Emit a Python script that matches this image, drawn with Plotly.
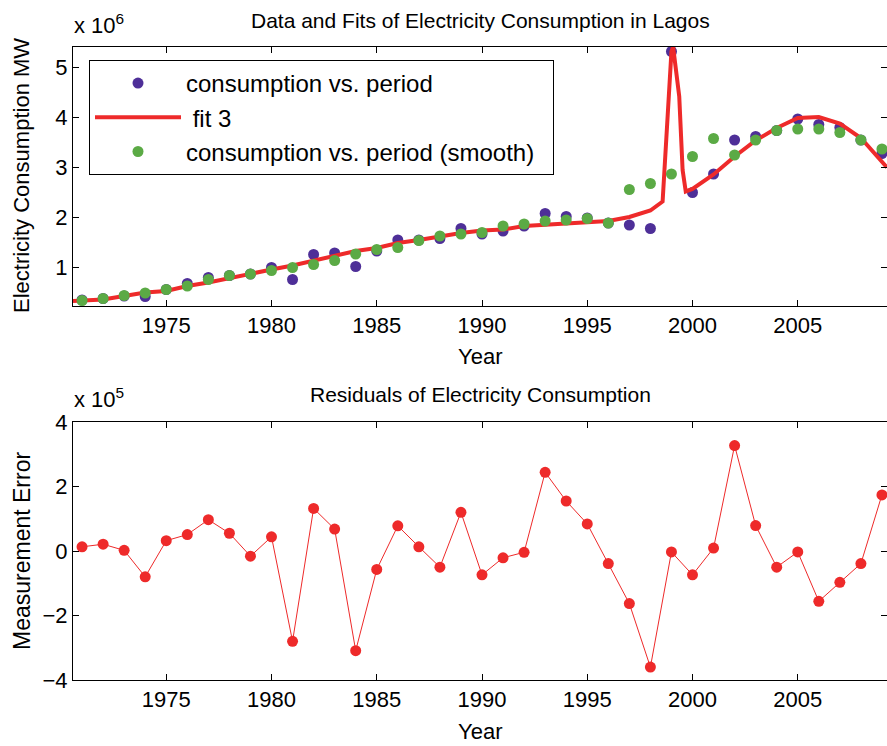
import plotly.graph_objects as go

# ---------------- data ----------------
years = list(range(1971, 2010))

# electricity consumption (units of 10^6 MW)
consumption = [0.34, 0.37, 0.42, 0.41, 0.55, 0.67, 0.79, 0.83, 0.86, 0.99,
               0.75, 1.25, 1.28, 1.01, 1.32, 1.54, 1.54, 1.57, 1.77, 1.66,
               1.72, 1.82, 2.07, 2.01, 1.98, 1.88, 1.84, 1.77, 5.31, 2.49,
               2.86, 3.54, 3.61, 3.73, 3.96, 3.85, 3.79, 3.54, 3.27]

# smoothed consumption (units of 10^6 MW)
consumption_smooth = [0.33, 0.37, 0.43, 0.48, 0.55, 0.62, 0.75, 0.83, 0.86, 0.93,
                      0.99, 1.05, 1.13, 1.26, 1.35, 1.39, 1.53, 1.62, 1.66, 1.69,
                      1.82, 1.86, 1.92, 1.94, 1.97, 1.88, 2.55, 2.67, 2.86, 3.21,
                      3.57, 3.24, 3.54, 3.73, 3.76, 3.76, 3.69, 3.54, 3.36]

# "fit 3" curve (units of 10^6 MW)
fit_years = [1970.57, 1971, 1972, 1973, 1974, 1975, 1976, 1977, 1978, 1979, 1980,
             1981, 1982, 1983, 1984, 1985, 1986, 1987, 1988, 1989, 1990,
             1991, 1992, 1993, 1994, 1995, 1996, 1997, 1998, 1998.58, 1998.85,
             1999, 1999.08, 1999.37, 1999.53, 1999.68, 2000, 2001, 2002, 2003,
             2004, 2005, 2006, 2007, 2008, 2009, 2009.24]
fit_values = [0.32, 0.33, 0.35, 0.42, 0.49, 0.52, 0.62, 0.69, 0.78, 0.88, 0.95,
              1.03, 1.12, 1.21, 1.32, 1.38, 1.48, 1.54, 1.62, 1.68, 1.73,
              1.75, 1.82, 1.85, 1.87, 1.90, 1.92, 2.00, 2.13, 2.31, 4.14,
              5.31, 5.40, 4.41, 2.94, 2.51, 2.56, 2.85, 3.21, 3.53,
              3.78, 3.98, 4.00, 3.87, 3.58, 3.10, 2.99]

# residuals (units of 10^5)
residuals = [0.13, 0.21, 0.02, -0.80, 0.32, 0.51, 0.97, 0.55, -0.16, 0.44,
             -2.80, 1.32, 0.68, -3.09, -0.57, 0.78, 0.13, -0.50, 1.20, -0.74,
             -0.21, -0.04, 2.44, 1.55, 0.84, -0.39, -1.63, -3.60, -0.03, -0.74,
             0.09, 3.27, 0.79, -0.50, -0.03, -1.56, -0.97, -0.39, 1.74]

top_ticks = [1, 2, 3, 4, 5]
bottom_ticks = [-4, -2, 0, 2, 4]
year_ticks = [1975, 1980, 1985, 1990, 1995, 2000, 2005]

# ---------------- style ----------------
W, H = 887, 746
PURPLE = "#4E2F98"
GREEN = "#5BAA45"
RED = "#EE2A2A"
FONT = "Liberation Sans, Arial, Helvetica, sans-serif"

def px_x(p):
    return p / W

def px_y(p):
    return 1 - p / H

fig = go.Figure()

fig.add_trace(go.Scatter(
    x=years, y=consumption, mode="markers", name="consumption vs. period",
    marker=dict(color=PURPLE, size=11), xaxis="x", yaxis="y",
    legendgroup="g1"))
fig.add_trace(go.Scatter(
    x=fit_years, y=fit_values, mode="lines", name=" fit 3",
    line=dict(color=RED, width=4), xaxis="x", yaxis="y",
    legendgroup="g2"))
fig.add_trace(go.Scatter(
    x=years, y=consumption_smooth, mode="markers",
    name="consumption vs. period (smooth)\u00a0\u00a0",
    marker=dict(color=GREEN, size=11), xaxis="x", yaxis="y",
    legendgroup="g3"))
fig.add_trace(go.Scatter(
    x=years, y=residuals, mode="lines+markers", showlegend=False,
    line=dict(color=RED, width=1), marker=dict(color=RED, size=11),
    xaxis="x2", yaxis="y2"))

axis_common = dict(
    showline=True, linecolor="black", linewidth=1, mirror="ticks",
    ticks="inside", ticklen=6, tickcolor="black", tickwidth=1,
    showgrid=False, zeroline=False, automargin=False,
    tickfont=dict(family=FONT, size=22, color="black"),
)

x_range = [1970.57, 2009.24]

fig.update_layout(
    width=W, height=H,
    margin=dict(l=0, r=0, t=0, b=0, autoexpand=False),
    paper_bgcolor="white", plot_bgcolor="white",
    font=dict(family=FONT, color="black"),
    xaxis=dict(domain=[px_x(73), 1.0], anchor="y", range=x_range,
               tickvals=year_ticks, **axis_common),
    yaxis=dict(domain=[px_y(306), px_y(47)], anchor="x", range=[0.22, 5.4],
               tickvals=top_ticks, **axis_common),
    xaxis2=dict(domain=[px_x(73), 1.0], anchor="y2", range=x_range,
                tickvals=year_ticks, **axis_common),
    yaxis2=dict(domain=[px_y(680), px_y(422)], anchor="x2", range=[-4, 4],
                tickvals=bottom_ticks, **axis_common),
    legend=dict(
        x=px_x(89), y=px_y(60), xanchor="left", yanchor="top",
        bgcolor="white", bordercolor="black", borderwidth=1,
        font=dict(family=FONT, size=24, color="black"),
        traceorder="grouped", tracegroupgap=0, itemwidth=86,
    ),
    showlegend=True,
)

ann = []
def add_text(text, x, y, size, angle=0, xanchor="center", yanchor="middle"):
    ann.append(dict(text=text, x=px_x(x), y=px_y(y), xref="paper", yref="paper",
                    showarrow=False, textangle=angle, xanchor=xanchor,
                    yanchor=yanchor, font=dict(family=FONT, size=size, color="black")))

add_text("Data and Fits of Electricity Consumption in Lagos", 480, 20, 21)
add_text("Residuals of Electricity Consumption", 480, 394, 21)
add_text("Year", 480, 356, 22)
add_text("Year", 480, 731, 22)
add_text("Electricity Consumption MW", 22, 176, 22, angle=-90)
add_text("Measurement Error", 22, 551, 23, angle=-90)
add_text("x 10<sup>6</sup>", 72, 24, 22, xanchor="left")
add_text("x 10<sup>5</sup>", 72, 398, 22, xanchor="left")

fig.update_layout(annotations=ann)

fig.write_html(
    "out.html",
    config={"displayModeBar": False},
    post_script="document.body.style.margin='0';document.body.style.overflow='hidden';",
)
